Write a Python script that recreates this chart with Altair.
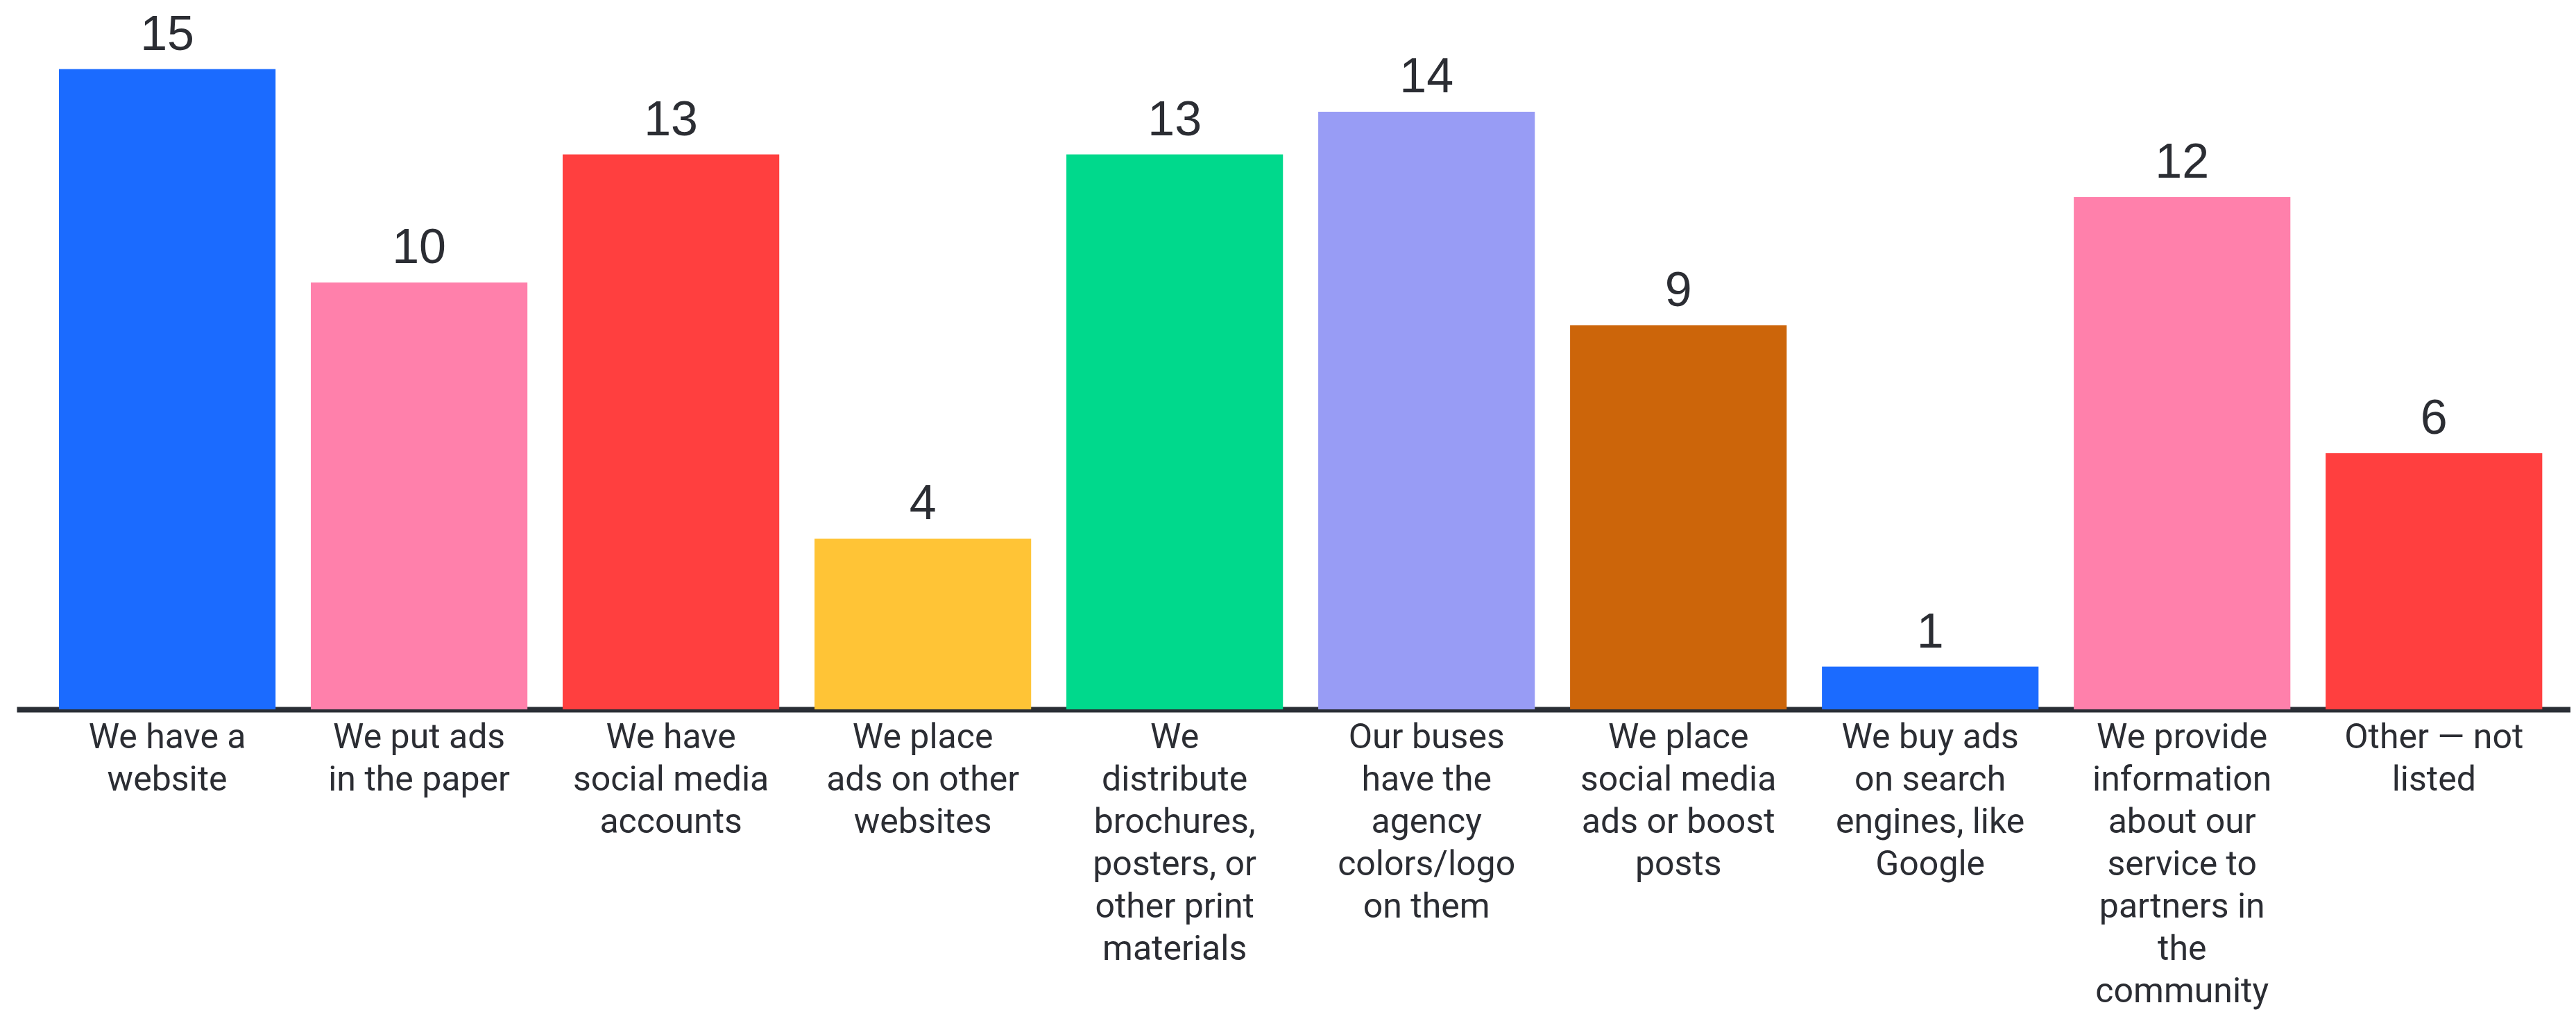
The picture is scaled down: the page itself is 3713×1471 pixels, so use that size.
import altair as alt
import pandas as pd

categories = [
    "We have a|website",
    "We put ads|in the paper",
    "We have|social media|accounts",
    "We place|ads on other|websites",
    "We|distribute|brochures,|posters, or|other print|materials",
    "Our buses|have the|agency|colors/logo|on them",
    "We place|social media|ads or boost|posts",
    "We buy ads|on search|engines, like|Google",
    "We provide|information|about our|service to|partners in|the|community",
    "Other \u2014 not|listed",
]
values = [15, 10, 13, 4, 13, 14, 9, 1, 12, 6]
colors = ["#1b6bff", "#ff80ab", "#ff3f3f", "#ffc436", "#00d98c",
          "#989cf5", "#cc650a", "#1b6bff", "#ff80ab", "#ff3f3f"]

df = pd.DataFrame({"category": categories, "value": values})

x = alt.X(
    "category:N",
    sort=None,
    scale=alt.Scale(paddingInner=0.14, paddingOuter=0.14, align=0.6),
    axis=alt.Axis(
        title=None,
        labelExpr="split(datum.label, '|')",
        labelAngle=0,
        labelFont="Roboto",
        labelFontSize=50,
        labelColor="#2b2d33",
        labelLineHeight=61,
        labelLimit=0,
        labelPadding=15,
        labelBaseline="top",
        ticks=False,
        tickSize=0,
        domainColor="#2a2e35",
        domainWidth=8,
        grid=False,
    ),
)
y = alt.Y("value:Q", scale=alt.Scale(domain=[0, 16], nice=False), axis=None)

bars = alt.Chart(df).mark_bar().encode(
    x=x,
    y=y,
    color=alt.Color("category:N", sort=None,
                    scale=alt.Scale(domain=categories, range=colors), legend=None),
)
labels = alt.Chart(df).mark_text(
    dy=-28, baseline="alphabetic", font="Liberation Sans Narrow, Liberation Sans",
    fontSize=70, color="#2b2d33",
).encode(x=x, y=y, text="value:Q")

chart = (bars + labels).properties(
    width=3681,
    height=984,
    autosize=alt.AutoSizeParams(type="none"),
    padding={"left": 16, "top": 30, "right": 0, "bottom": 441},
).configure(background="white").configure_view(stroke=None, strokeWidth=0)

chart.save("out.html", embed_options={"renderer": "svg", "actions": False})
